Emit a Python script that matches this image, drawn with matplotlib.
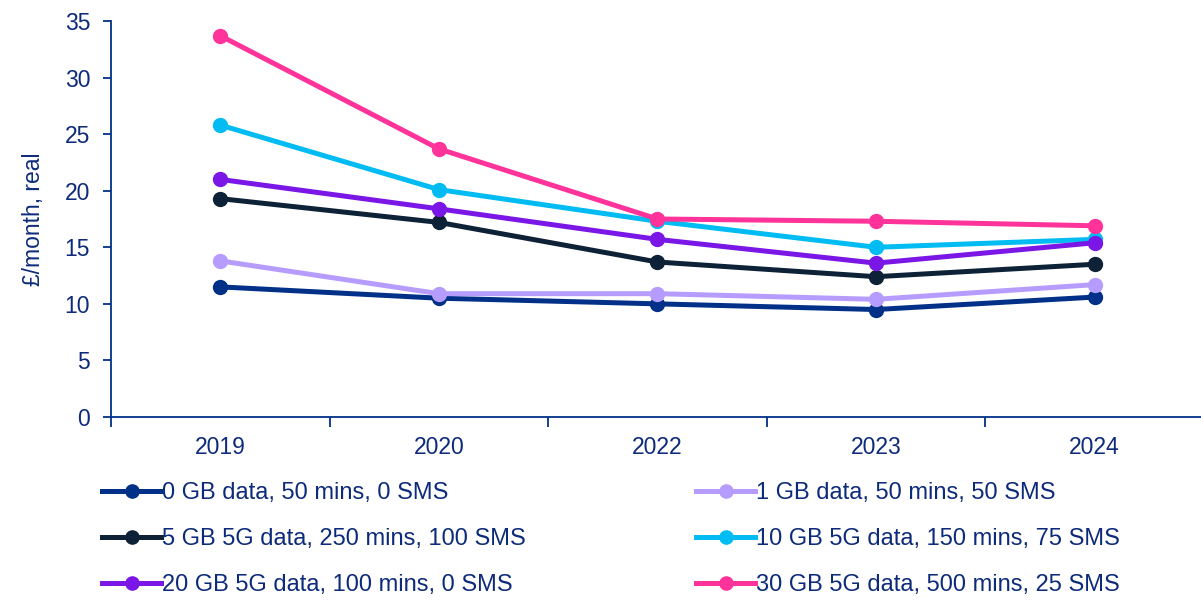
import matplotlib.pyplot as plt

plt.rcParams['font.family'] = ['Liberation Sans', 'DejaVu Sans']

years = ['2019', '2020', '2022', '2023', '2024']

plan_labels = [
    '0 GB data, 50 mins, 0 SMS',
    '1 GB data, 50 mins, 50 SMS',
    '5 GB 5G data, 250 mins, 100 SMS',
    '10 GB 5G data, 150 mins, 75 SMS',
    '20 GB 5G data, 100 mins, 0 SMS',
    '30 GB 5G data, 500 mins, 25 SMS',
]

gb0 = [11.5, 10.5, 10.0, 9.5, 10.6]
gb1 = [13.8, 10.9, 10.9, 10.4, 11.7]
gb5 = [19.3, 17.2, 13.7, 12.4, 13.5]
gb10 = [25.8, 20.1, 17.3, 15.0, 15.7]
gb20 = [21.0, 18.4, 15.7, 13.6, 15.4]
gb30 = [33.7, 23.7, 17.5, 17.3, 16.9]

series = [gb0, gb1, gb5, gb10, gb20, gb30]
colors = ['#003087', '#B69CFF', '#0D2137', '#00BCF2', '#7A17E6', '#FF3399']

axis_col = '#003087'
text_col = '#0D2B7A'

fig = plt.figure(figsize=(12.01, 6.0), dpi=100)
ax = fig.add_axes([0.0924, 0.305, 0.91, 0.66])

x = range(len(years))
lines = []
for vals, lab, c in zip(series, plan_labels, colors):
    ln, = ax.plot(x, vals, color=c, lw=3.6, marker='o', markersize=10, label=lab)
    lines.append(ln)

ax.set_xlim(-0.5, len(years) - 0.5)
ax.set_ylim(0, 35)
ax.set_yticks(range(0, 36, 5))

# category labels centred, tick marks between categories
ax.set_xticks([i - 0.5 for i in range(len(years) + 1)])
ax.set_xticklabels([])
ax.set_xticks(list(x), minor=True)
ax.set_xticklabels(years, minor=True)
ax.tick_params(axis='x', which='major', length=7, width=1.3, color=axis_col, direction='out')
ax.tick_params(axis='x', which='minor', length=0, labelsize=16.5, labelcolor=text_col, pad=14)
ax.tick_params(axis='y', length=6, width=1.3, color=axis_col, labelsize=16.5, labelcolor=text_col, pad=9)

for s in ['top', 'right']:
    ax.spines[s].set_visible(False)
for s in ['left', 'bottom']:
    ax.spines[s].set_color(axis_col)
    ax.spines[s].set_linewidth(1.3)

ax.set_ylabel('£/month, real', fontsize=16.5, color=text_col, labelpad=14)

# legend is filled row by row in the reference
order = [0, 2, 4, 1, 3, 5]
ax.legend([lines[i] for i in order], [plan_labels[i] for i in order],
          loc='upper left', bbox_to_anchor=(0.085, 0.197), bbox_transform=fig.transFigure,
          ncol=2, frameon=False, fontsize=17, handlelength=2.5, handletextpad=0.05,
          columnspacing=7.2, labelspacing=1.03, labelcolor=text_col, markerscale=0.95,
          borderaxespad=0, borderpad=0)

fig.savefig('out.png', dpi=100)
